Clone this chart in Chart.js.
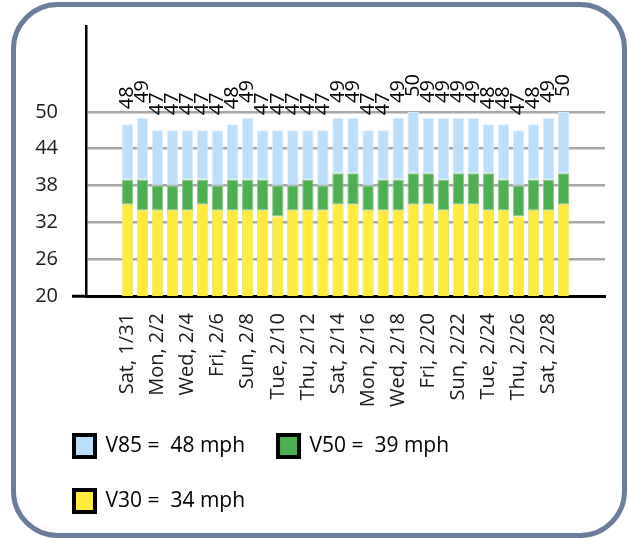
<!DOCTYPE html>
<html>
<head>
<meta charset="utf-8">
<script src="https://cdn.jsdelivr.net/npm/chart.js@4.4.1/dist/chart.umd.min.js"></script>
<style>
  html, body { margin: 0; padding: 0; background: #fff; }
  #wrap { position: relative; width: 628px; height: 538px; overflow: hidden; }
  #frame {
    position: absolute; left: 11px; top: 2px; width: 616px; height: 536px;
    box-sizing: border-box; border: 5px solid #6c7d9c; border-radius: 47px;
    pointer-events: none;
  }
  #chart { position: absolute; left: 0; top: 0; }
</style>
</head>
<body>
<div id="wrap">
  <div id="frame"></div>
  <canvas id="chart" width="628" height="538"></canvas>
</div>
<script>
// --- data ---
const dayLabels = [
    'Sat, 1/31', 'Sun, 2/1', 'Mon, 2/2', 'Tue, 2/3', 'Wed, 2/4', 'Thu, 2/5', 'Fri, 2/6',
    'Sat, 2/7', 'Sun, 2/8', 'Mon, 2/9', 'Tue, 2/10', 'Wed, 2/11', 'Thu, 2/12', 'Fri, 2/13',
    'Sat, 2/14', 'Sun, 2/15', 'Mon, 2/16', 'Tue, 2/17', 'Wed, 2/18', 'Thu, 2/19', 'Fri, 2/20',
    'Sat, 2/21', 'Sun, 2/22', 'Mon, 2/23', 'Tue, 2/24', 'Wed, 2/25', 'Thu, 2/26', 'Fri, 2/27',
    'Sat, 2/28', 'Sun, 3/1'
];
const v85 = [48, 49, 47, 47, 47, 47, 47, 48, 49, 47, 47, 47, 47, 47, 49, 49, 47, 47, 49, 50, 49, 49, 49, 49, 48, 48, 47, 48, 49, 50];
const v50 = [39, 39, 38, 38, 39, 39, 38, 39, 39, 39, 38, 38, 39, 38, 40, 40, 38, 39, 39, 40, 40, 39, 40, 40, 40, 39, 38, 39, 39, 40];
const v30 = [35, 34, 34, 34, 34, 35, 34, 34, 34, 34, 33, 34, 34, 34, 35, 35, 34, 34, 34, 35, 35, 34, 35, 35, 34, 34, 33, 34, 34, 35];
const legendLabels = ['V30 =  34 mph', 'V50 =  39 mph', 'V85 =  48 mph'];
const yTickValues = [20, 26, 32, 38, 44, 50];

const FONT = 'Open Sans';
const COLORS = ['#ffeb3b', '#4caf50', '#bbdefb'];
const EDGES = ['#dfe48a', '#8cc98c', '#d8ebfa'];

// stacked segments: V30, then V50 - V30, then V85 - V50
const segV30 = v30.map((v, i) => ({ x: i, y: v }));
const segV50 = v50.map((v, i) => ({ x: i, y: v - v30[i] }));
const segV85 = v85.map((v, i) => ({ x: i, y: v - v50[i] }));

// V85 value written above each bar, rotated
const topLabels = {
    id: 'topLabels',
    beforeDraw(chart) {
        // legend box sits right of / above where the layout puts it
        chart.legend.left = 41;
        chart.legend.top = 402;
    },
    afterDatasetsDraw(chart) {
        const ctx = chart.ctx;
        const meta = chart.getDatasetMeta(2);
        ctx.save();
        ctx.font = '20px "' + FONT + '"';
        ctx.fillStyle = '#000';
        ctx.textAlign = 'left';
        ctx.textBaseline = 'middle';
        meta.data.forEach((bar, i) => {
            ctx.save();
            ctx.translate(bar.x, bar.y - 15);
            ctx.rotate(-Math.PI / 2);
            ctx.fillText(String(v85[i]), 0, 0);
            ctx.restore();
        });
        ctx.restore();
    }
};

const ds = (label, data, idx) => ({
    label: label,
    data: data,
    backgroundColor: COLORS[idx],
    borderColor: EDGES[idx],
    borderWidth: 1,
    borderSkipped: false,
    barPercentage: 0.76,
    categoryPercentage: 1
});

new Chart(document.getElementById('chart'), {
    type: 'bar',
    data: {
        datasets: [
            ds(legendLabels[0], segV30, 0),
            ds(legendLabels[1], segV50, 1),
            ds(legendLabels[2], segV85, 2)
        ]
    },
    options: {
        responsive: false,
        animation: false,
        layout: { padding: { left: 20, right: 23, top: 25, bottom: 0 } },
        plugins: {
            tooltip: { enabled: false },
            legend: {
                position: 'bottom',
                align: 'start',
                reverse: true,
                labels: {
                    boxWidth: 21,
                    boxHeight: 22,
                    padding: 33,
                    color: '#222',
                    font: { family: FONT, size: 21 },
                    generateLabels(chart) {
                        return chart.data.datasets.map((d, i) => ({
                            text: d.label,
                            fillStyle: COLORS[i],
                            strokeStyle: '#000',
                            lineWidth: 4,
                            datasetIndex: i,
                            hidden: false
                        }));
                    }
                }
            }
        },
        scales: {
            x: {
                type: 'linear',
                stacked: true,
                offset: false,
                min: -2.75,
                max: 31.75,
                afterBuildTicks: axis => {
                    axis.ticks = dayLabels.map((d, i) => ({ value: i })).filter(t => t.value % 2 === 0);
                },
                afterFit: axis => { axis.height = 122; },
                grid: { display: false, drawTicks: false },
                border: { display: true, color: '#000', width: 3 },
                ticks: {
                    autoSkip: false,
                    minRotation: 90,
                    maxRotation: 90,
                    padding: 17,
                    color: '#1a1a1a',
                    font: { family: FONT, size: 20 },
                    callback: value => dayLabels[value]
                }
            },
            y: {
                stacked: true,
                min: 20,
                max: 64,
                afterBuildTicks: axis => {
                    axis.ticks = yTickValues.map(v => ({ value: v }));
                },
                afterFit: axis => { axis.width = 66; },
                grid: {
                    color: c => c.tick && c.tick.value === 20 ? 'rgba(0,0,0,0)' : '#a6a6a6',
                    lineWidth: 2.5,
                    drawTicks: true,
                    tickLength: 14,
                    tickWidth: 3,
                    tickColor: c => c.tick && c.tick.value === 20 ? '#000' : 'rgba(0,0,0,0)'
                },
                border: { display: true, color: '#000', width: 2.5 },
                ticks: {
                    padding: 14,
                    color: '#1a1a1a',
                    font: { family: FONT, size: 20 }
                }
            }
        }
    },
    plugins: [topLabels]
});
</script>
</body>
</html>
